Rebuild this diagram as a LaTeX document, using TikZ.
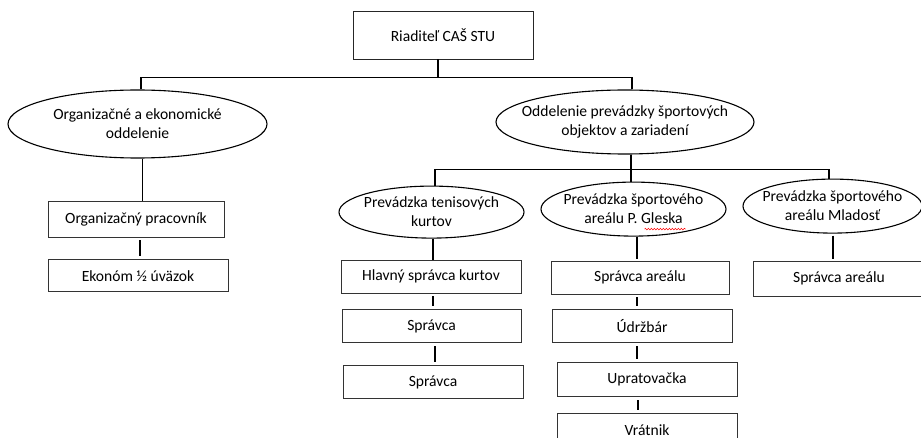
\documentclass[tikz,border=0pt]{standalone}
\usepackage{fontspec}
\setmainfont{Carlito}
\usepackage{tikz}
\usetikzlibrary{positioning, shapes.geometric, decorations.pathmorphing}
\tikzset{
    head/.style={rectangle, draw=black!85, line width=0.9pt, minimum width=180pt, minimum height=48pt, inner sep=0pt},
    unit/.style={ellipse, draw=black, line width=1.1pt, inner xsep=-20pt, inner ysep=0pt, align=center},
    post/.style={rectangle, draw=black!80, line width=0.8pt, minimum width=180pt, minimum height=33pt, inner sep=0pt},
    wire/.style={line width=1.2pt},
    gapwire/.style={line width=1.2pt, shorten <=3pt, shorten >=3pt},
}

\begin{document}
\begin{tikzpicture}[font=\fontsize{15.6}{19}\selectfont]
        \useasboundingbox (0,0) rectangle (921pt,-438pt);
        \node [head] (dir) at (443pt,-35pt) {Riaditeľ CAŠ STU};
        \node [unit, minimum width=259pt, minimum height=68pt] (org) [below=30pt of dir, xshift=-305.5pt] {Organizačné a ekonomické\\oddelenie};
        \node [unit, minimum width=258pt, minimum height=64pt] (opso) [below=30pt of dir, xshift=182pt] {Oddelenie prevádzky športových\\objektov a zariadení};
        \node [post, minimum width=176pt, minimum height=36pt] (orgprac) [below=42pt of org, xshift=-1.5pt] {Organizačný pracovník};
        \node [post, minimum height=32pt] (ekonom) [below=22pt of orgprac, xshift=2pt] {Ekonóm ½ úväzok};
        \node [unit, minimum width=185pt, minimum height=52pt] (tenis) [below=31pt of opso, xshift=-193.5pt] {Prevádzka tenisových\\kurtov};
        \node [unit, minimum width=185pt, minimum height=54pt] (gleska) [below=27pt of opso, xshift=8.5pt] {Prevádzka športového\\areálu P. Gleska};
        \node [unit, minimum width=179pt, minimum height=54pt] (mladost) [below=24pt of opso, xshift=207.5pt] {Prevádzka športového\\areálu Mladosť};
        \node [post] (hlavny) [below=21pt of tenis, xshift=-0.5pt] {Hlavný správca kurtov};
        \node [post, minimum width=179pt] (spravca1) [below=16pt of hlavny, xshift=0.5pt] {Správca};
        \node [post] (spravca2) [below=22pt of spravca1, xshift=1.5pt] {Správca};
        \node [post, minimum width=178pt] (sareal) [below=24pt of gleska, xshift=6.5pt] {Správca areálu};
        \node [post] (udrzbar) [below=15pt of sareal, xshift=2pt] {Údržbár};
        \node [post, minimum height=34pt] (upratov) [below=19pt of udrzbar, xshift=5pt] {Upratovačka};
        \node [post, minimum height=34pt] (vratnik) [below=16pt of upratov] {Vrátnik};
        \node [post, minimum width=172pt, minimum height=35pt] (mareal) [below=27pt of mladost, xshift=6.5pt] {Správca areálu};
        \coordinate (j1) at ([xshift=-5pt, yshift=-18pt]dir.south);
        \coordinate (j2) at ([xshift=6pt, yshift=-15pt]opso.south);
        \draw[wire] ([xshift=-5pt]dir.south) -- (j1);
        \draw[wire] ([xshift=3.5pt]org.north) |- (j1) -| ([xshift=7pt]opso.north);
        \draw[wire] ([xshift=5pt]org.south) -- ([xshift=5pt]org.south |- orgprac.north);
        \draw[gapwire] ([xshift=4pt]orgprac.south) -- ([xshift=4pt]orgprac.south |- ekonom.north);
        \draw[wire] ([xshift=6pt]opso.south) -- (j2 |- gleska.north);
        \draw[wire] ([xshift=3.5pt]tenis.north) |- (j2) -| ([xshift=-3.5pt]mladost.north);
        \draw[wire] ([xshift=1.5pt]tenis.south) -- ([xshift=1.5pt]tenis.south |- hlavny.north);
        \draw[gapwire] ([xshift=2pt]hlavny.south) -- ([xshift=2pt]hlavny.south |- spravca1.north);
        \draw[gapwire] ([xshift=3.5pt]spravca1.south) -- ([xshift=3.5pt]spravca1.south |- spravca2.north);
        \draw[wire, shorten >=2pt] ([xshift=3.5pt]gleska.south) -- ([xshift=3.5pt]gleska.south |- sareal.north);
        \draw[gapwire] ([xshift=-3pt]sareal.south) -- ([xshift=-3pt]sareal.south |- udrzbar.north);
        \draw[gapwire] ([xshift=-5pt]udrzbar.south) -- ([xshift=-5pt]udrzbar.south |- upratov.north);
        \draw[gapwire] ([xshift=-9pt]upratov.south) -- ([xshift=-9pt]upratov.south |- vratnik.north);
        \draw[wire, shorten <=2pt, shorten >=2pt] ([xshift=0.5pt]mladost.south) -- ([xshift=0.5pt]mladost.south |- mareal.north);
        \draw[red, line width=0.5pt, decorate, decoration={snake, amplitude=0.8pt, segment length=3pt}] ([xshift=11pt, yshift=-20pt]gleska.center) -- ++(41pt,0);
    \end{tikzpicture}
\end{document}
